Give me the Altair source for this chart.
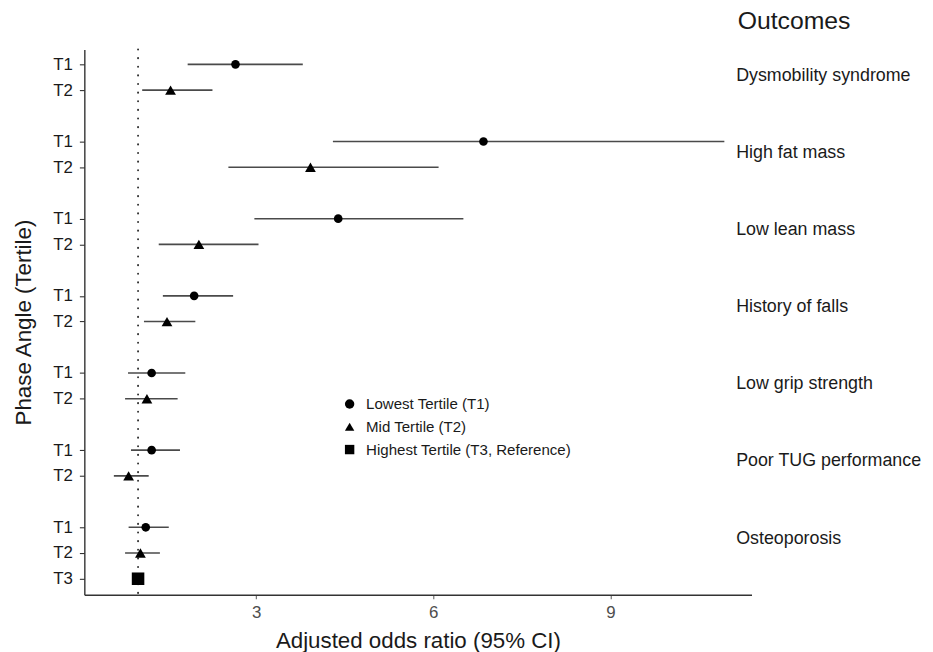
import altair as alt
import pandas as pd

# ---- data ----
outcomes = ["Dysmobility syndrome", "High fat mass", "Low lean mass", "History of falls",
            "Low grip strength", "Poor TUG performance", "Osteoporosis"]
tertiles = ["T1", "T2", "T3"]
groups = ["Lowest Tertile (T1)", "Mid Tertile (T2)", "Highest Tertile (T3, Reference)"]

t1_or = [2.65, 6.85, 4.39, 1.95, 1.23, 1.23, 1.13]
t1_lo = [1.84, 4.30, 2.97, 1.42, 0.83, 0.88, 0.84]
t1_hi = [3.79, 10.93, 6.51, 2.61, 1.80, 1.71, 1.52]
t2_or = [1.55, 3.92, 2.03, 1.49, 1.15, 0.84, 1.04]
t2_lo = [1.07, 2.53, 1.35, 1.10, 0.78, 0.59, 0.78]
t2_hi = [2.26, 6.09, 3.04, 1.97, 1.67, 1.18, 1.37]
t3_or = 1.0  # reference category

x_ticks = [3, 6, 9]

# ---- build table ----
rows = []
for i, name in enumerate(outcomes):
    rows.append(dict(outcome=name, tertile=tertiles[0], group=groups[0], slot=3 * i,
                     oratio=t1_or[i], lo=t1_lo[i], hi=t1_hi[i]))
    rows.append(dict(outcome=name, tertile=tertiles[1], group=groups[1], slot=3 * i + 1,
                     oratio=t2_or[i], lo=t2_lo[i], hi=t2_hi[i]))
last = len(outcomes) - 1
rows.append(dict(outcome=outcomes[last], tertile=tertiles[2], group=groups[2], slot=3 * last + 2,
                 oratio=t3_or, lo=None, hi=None))
df = pd.DataFrame(rows)

slot_values = df["slot"].tolist()
slot_text = [""] * (max(slot_values) + 1)
for s, t in zip(df["slot"], df["tertile"]):
    slot_text[s] = t
left_expr = "[" + ",".join(repr(s) for s in slot_text) + "][datum.value]"

centers = [3 * i + 0.5 for i in range(len(outcomes))]
lab_df = pd.DataFrame({"outcome": outcomes, "center": centers})
right_expr = "[" + ",".join(repr(o) for o in outcomes) + "][floor(datum.value / 3)]"

ref_df = pd.DataFrame({"ref": [t3_or]})

FONT = "Liberation Sans"
yscale = alt.Scale(domain=[-0.58, 20.62], reverse=True, nice=False, zero=False)
xscale = alt.Scale(domain=[0.09, 11.39], nice=False, zero=False)

x_axis = alt.Axis(values=x_ticks, title="Adjusted odds ratio (95% CI)", grid=False,
                  labelFontSize=17, labelColor="#4d4d4d", tickSize=4, tickColor="#666666",
                  labelPadding=6, titleFontSize=22.5, titleFontWeight="normal",
                  titlePadding=9, titleColor="#1a1a1a")
y_axis = alt.Axis(values=slot_values, labelExpr=left_expr, title="Phase Angle (Tertile)",
                  grid=False, labelFontSize=17, labelColor="#1a1a1a", tickSize=5,
                  labelPadding=7, titleFontSize=22.5, titleFontWeight="normal",
                  titlePadding=17, titleColor="#1a1a1a")

ref = alt.Chart(ref_df).mark_rule(color="#333333", strokeWidth=2, strokeDash=[0.1, 8.6],
                                  strokeCap="round").encode(
    x=alt.X("ref:Q", scale=xscale, axis=x_axis)
)

ci = alt.Chart(df).mark_rule(color="#4a4a4a", strokeWidth=1.6).encode(
    x=alt.X("lo:Q", scale=xscale, axis=x_axis),
    x2="hi:Q",
    y=alt.Y("slot:Q", scale=yscale, axis=y_axis),
)

pts = alt.Chart(df).mark_point(filled=True, opacity=1, color="black").encode(
    x=alt.X("oratio:Q", scale=xscale, axis=x_axis),
    y=alt.Y("slot:Q", scale=yscale, axis=y_axis),
    shape=alt.Shape("group:N",
                    scale=alt.Scale(domain=groups, range=["circle", "triangle-up", "square"]),
                    legend=alt.Legend(title=None, orient="none", legendX=260, legendY=350,
                                      labelFontSize=15.2, labelFont=FONT, labelColor="#1a1a1a",
                                      labelLimit=400, symbolSize=90, symbolFillColor="black",
                                      symbolStrokeColor="black", symbolStrokeWidth=0,
                                      labelOffset=9, rowPadding=7, padding=0)),
    size=alt.Size("tertile:N", scale=alt.Scale(domain=tertiles, range=[76, 160, 110]),
                  legend=None),
)

labs = alt.Chart(lab_df).mark_point(opacity=0).encode(
    y=alt.Y("center:Q", scale=yscale,
            axis=alt.Axis(orient="right", values=centers, labelExpr=right_expr, title=None,
                          domain=False, ticks=False, grid=False, labelAlign="left",
                          labelPadding=0, offset=-16, labelOffset=-2, labelFontSize=18,
                          labelLimit=400, labelColor="#1a1a1a"))
)

chart = alt.layer(alt.layer(ref, ci, pts), labs).resolve_scale(y="independent").properties(
    width=673, height=550,
    padding={"left": 77, "top": 39, "right": 175, "bottom": 55},
    autosize=alt.AutoSizeParams(type="none"),
    title=alt.TitleParams(text="Outcomes", anchor="start", frame="group", dx=659,
                          fontSize=25, fontWeight="normal", font=FONT, color="#1a1a1a",
                          offset=15),
).configure_view(stroke=None).configure_axis(
    domainColor="#333333", domainWidth=1.4, tickColor="#333333", tickWidth=1.1,
    labelFont=FONT, titleFont=FONT
)

chart.save("out.html", embed_options={"renderer": "svg", "actions": False})
